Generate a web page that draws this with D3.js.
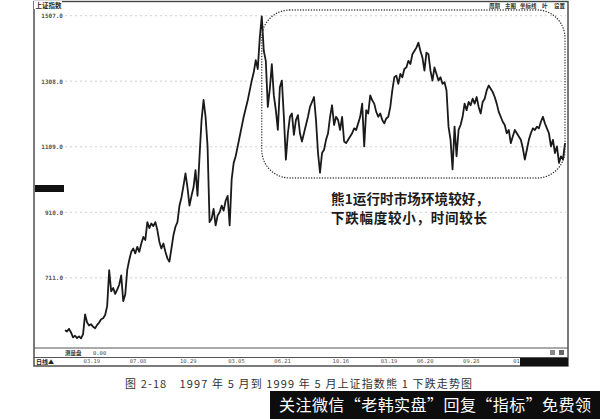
<!DOCTYPE html>
<html>
<head>
<meta charset="utf-8">
<script src="https://cdn.jsdelivr.net/npm/d3@7/dist/d3.min.js"></script>
<style>
  body { margin: 0; background: #fff; }
  svg { display: block; }
</style>
</head>
<body>
<script>
// 上证指数 daily closes (one value per ~2px)
var closes = [
  552, 548, 556, 545, 530, 535, 528, 533, 527, 540,
  600, 575, 566, 570, 562, 558, 568, 575, 585, 588,
  598, 625, 734, 670, 680, 662, 675, 690, 718, 640,
  660, 735, 765, 790, 800, 785, 805, 790, 815, 835,
  826, 880, 862, 876, 868, 880, 856, 820, 800, 815,
  790, 770, 760, 800, 840, 866, 880, 930, 955, 990,
  1028, 985, 930, 960, 985, 1038, 960, 1080, 1190, 1251,
  1200, 1110, 880, 890, 920, 870, 900, 910, 930, 915,
  945, 960, 870, 1010, 1060, 1080, 1110, 1140, 1170, 1200,
  1225, 1250, 1280, 1310, 1335, 1372, 1345, 1440, 1505, 1400,
  1370, 1230, 1285, 1360, 1265, 1220, 1160, 1290, 1310, 1200,
  1070, 1150, 1200, 1210, 1145, 1190, 1205, 1150, 1125, 1150,
  1175, 1200, 1230, 1245, 1260, 1190, 1090, 1030, 1090, 1100,
  1130, 1150, 1200, 1235, 1175, 1200, 1190, 1160, 1200, 1125,
  1120, 1130, 1140, 1150, 1165, 1160, 1180, 1200, 1240, 1110,
  1220, 1210, 1265, 1250, 1240, 1215, 1200, 1210, 1190, 1180,
  1195, 1200, 1230, 1280, 1320, 1325, 1300, 1330, 1320, 1345,
  1350, 1370, 1360, 1390, 1400, 1410, 1425, 1400, 1380, 1340,
  1395, 1390, 1340, 1310, 1350, 1330, 1310, 1320, 1300, 1305,
  1280, 1170, 1130, 1040, 1170, 1080, 1160, 1175, 1200, 1240,
  1220, 1245, 1235, 1255, 1240, 1260, 1230, 1210, 1245, 1255,
  1280, 1295, 1285, 1275, 1260, 1240, 1215, 1200, 1185, 1175,
  1150, 1160, 1120, 1140, 1160, 1150, 1140, 1130, 1105, 1070,
  1100, 1130, 1150, 1165, 1160, 1170, 1165, 1185, 1200, 1180,
  1165, 1150, 1110, 1130, 1090, 1110, 1060, 1080, 1070, 1120
];

var yTicks = [711, 910, 1109, 1308, 1507];
var dateLabels = ["03.19", "07.08", "10.29", "03.05", "06.21", "10.16", "03.19", "06.20", "09.28", "01"];
var dateIndex = [9, 32, 57, 81, 104, 133, 157, 175, 198, 223];
var menuItems = ["周期", "主图", "坐标线", "叶", "设置"];
var noteLines = ["熊1运行时市场环境较好，", "下跌幅度较小，时间较长"];
var caption = "图 2-18　1997 年 5 月到 1999 年 5 月上证指数熊 1 下跌走势图";
var banner = "关注微信“老韩实盘”回复“指标”免费领";

var width = 600, height = 419;
var frameL = 34, frameR = 568, frameT = 1.5, frameB = 366;

var svg = d3.select("body").append("svg")
  .attr("width", width)
  .attr("height", height);

var x = d3.scaleLinear().domain([0, closes.length - 1]).range([65, 565]);
var y = d3.scaleLinear().domain([711, 1507]).range([277.8, 15.7]);

// frame
svg.append("rect")
  .attr("x", frameL).attr("y", frameT)
  .attr("width", frameR - frameL).attr("height", frameB - frameT)
  .attr("fill", "none").attr("stroke", "#444").attr("stroke-width", 1.4);

// grid
svg.append("g").selectAll("line")
  .data(yTicks)
  .enter().append("line")
  .attr("x1", 65).attr("x2", 566)
  .attr("y1", function(d) { return y(d); })
  .attr("y2", function(d) { return y(d); })
  .attr("stroke", "#c4c4c4")
  .attr("stroke-width", 0.8)
  .attr("stroke-dasharray", "2,3");

// y labels
var yAxis = svg.append("g")
  .attr("transform", "translate(64,0)")
  .call(d3.axisLeft(y).tickValues(yTicks).tickFormat(d3.format(".1f")).tickSize(0).tickPadding(1));
yAxis.select(".domain").remove();
yAxis.selectAll("text")
  .attr("font-family", "DejaVu Sans Mono")
  .attr("font-size", 6)
  .attr("font-weight", "bold")
  .attr("fill", "#555");

// header
svg.append("rect").attr("x", frameL).attr("y", 1).attr("width", 28).attr("height", 8).attr("fill", "#fff");
svg.append("text")
  .attr("x", 35.5).attr("y", 8)
  .attr("font-family", "Noto Sans CJK SC").attr("font-size", 6.5).attr("font-weight", "bold")
  .attr("fill", "#222")
  .text("上证指数");

var menuX = [489, 505, 520, 542, 554];
svg.append("g").selectAll("text")
  .data(menuItems)
  .enter().append("text")
  .attr("x", function(d, i) { return menuX[i]; })
  .attr("y", 7.5)
  .attr("font-family", "Noto Sans CJK SC").attr("font-size", 5.5).attr("font-weight", "bold")
  .attr("fill", "#333")
  .text(function(d) { return d; });

// current price marker on left
svg.append("rect").attr("x", frameL + 1).attr("y", 185).attr("width", 29).attr("height", 7).attr("fill", "#111");

// price line
var line = d3.line()
  .x(function(d, i) { return x(i); })
  .y(function(d) { return y(d); });

svg.append("path")
  .datum(closes)
  .attr("d", line)
  .attr("fill", "none")
  .attr("stroke", "#1a1a1a")
  .attr("stroke-width", 1.8)
  .attr("stroke-linejoin", "round");

// dotted rounded box around bear 1
svg.append("rect")
  .attr("x", x(98)).attr("y", 10)
  .attr("width", x(249) - x(98)).attr("height", 168)
  .attr("rx", 28).attr("ry", 28)
  .attr("fill", "none")
  .attr("stroke", "#333")
  .attr("stroke-width", 1.4)
  .attr("stroke-linecap", "round")
  .attr("stroke-dasharray", "0.1,2.6");

// note
svg.append("g").selectAll("text")
  .data(noteLines)
  .enter().append("text")
  .attr("x", 331)
  .attr("y", function(d, i) { return 204 + i * 18.5; })
  .attr("font-family", "Noto Sans CJK SC").attr("font-size", 13.5).attr("font-weight", "bold")
  .attr("fill", "#1a1a1a")
  .attr("textLength", function(d, i) { return i === 0 ? 158 : 156; })
  .text(function(d) { return d; });

// bottom panel
svg.append("line").attr("x1", frameL).attr("x2", frameR).attr("y1", 348).attr("y2", 348)
  .attr("stroke", "#555").attr("stroke-width", 1);
svg.append("line").attr("x1", frameL).attr("x2", frameR).attr("y1", 357.5).attr("y2", 357.5)
  .attr("stroke", "#555").attr("stroke-width", 1);
svg.append("text")
  .attr("x", 65).attr("y", 355)
  .attr("font-family", "Noto Sans CJK SC").attr("font-size", 5.5).attr("font-weight", "bold")
  .attr("fill", "#333")
  .text("测量盘");
svg.append("text")
  .attr("x", 93).attr("y", 355)
  .attr("font-family", "DejaVu Sans Mono").attr("font-size", 5.5)
  .attr("fill", "#444")
  .text("0.00");
svg.append("rect").attr("x", 550).attr("y", 350).attr("width", 5).attr("height", 5).attr("fill", "#888");
svg.append("rect").attr("x", 559).attr("y", 350).attr("width", 5).attr("height", 5).attr("fill", "#666");

svg.append("text")
  .attr("x", 36).attr("y", 364)
  .attr("font-family", "Noto Sans CJK SC").attr("font-size", 6).attr("font-weight", "bold")
  .attr("fill", "#222")
  .text("日线▲");

var xAxis = svg.append("g")
  .attr("transform", "translate(0,358)")
  .call(d3.axisBottom(x).tickValues(dateIndex)
    .tickFormat(function(d, i) { return dateLabels[i]; })
    .tickSize(0).tickPadding(1));
xAxis.select(".domain").remove();
xAxis.selectAll("text")
  .attr("text-anchor", "start")
  .attr("font-family", "DejaVu Sans Mono")
  .attr("font-size", 5.5)
  .attr("fill", "#555");

svg.append("rect").attr("x", 520).attr("y", 358).attr("width", 48).attr("height", 8).attr("fill", "#111");

// caption
svg.append("text")
  .attr("x", 125).attr("y", 388)
  .attr("font-family", "Noto Sans CJK SC").attr("font-size", 11)
  .attr("fill", "#333")
  .attr("textLength", 347)
  .text(caption);

// banner
svg.append("rect").attr("x", 270).attr("y", 391).attr("width", 330).attr("height", 28).attr("fill", "#0d0d0d");
svg.append("text")
  .attr("x", 279).attr("y", 411)
  .attr("font-family", "Noto Sans CJK SC").attr("font-size", 16)
  .attr("fill", "#fff")
  .attr("textLength", 312)
  .text(banner);
</script>
</body>
</html>
